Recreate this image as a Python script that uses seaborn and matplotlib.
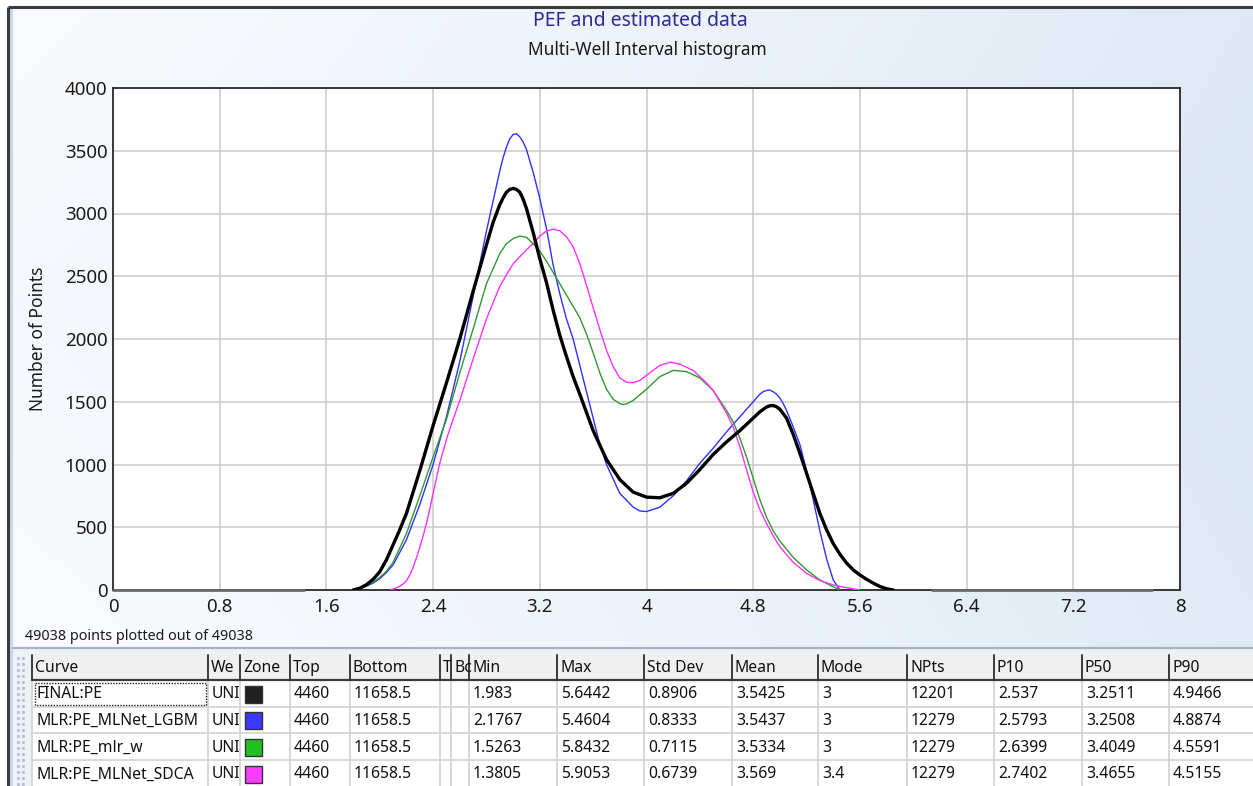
import numpy as np
import pandas as pd
import matplotlib
matplotlib.use("Agg")
import matplotlib.pyplot as plt
from matplotlib.patches import Rectangle
import seaborn as sns

# ---------------------------------------------------------------- data
curve_names = ["FINAL:PE", "MLR:PE_MLNet_LGBM", "MLR:PE_mlr_w", "MLR:PE_MLNet_SDCA"]

final_pe_x = [1.80, 1.85, 1.90, 1.95, 2.00, 2.05, 2.10, 2.15, 2.20, 2.30, 2.40, 2.50,
              2.60, 2.70, 2.80, 2.85, 2.90, 2.925, 2.95, 2.975, 3.00, 3.025, 3.05,
              3.075, 3.10, 3.15, 3.20, 3.25, 3.30, 3.35, 3.40, 3.45, 3.50, 3.60,
              3.70, 3.80, 3.90, 4.00, 4.10, 4.20, 4.30, 4.40, 4.50, 4.60, 4.70,
              4.80, 4.85, 4.90, 4.925, 4.95, 4.975, 5.00, 5.05, 5.10, 5.15, 5.20,
              5.25, 5.30, 5.35, 5.40, 5.45, 5.50, 5.55, 5.60, 5.65, 5.70, 5.75,
              5.80, 5.85]
final_pe_y = [0, 14, 42, 85, 145, 240, 360, 480, 610, 950, 1310, 1650,
              2000, 2380, 2750, 2930, 3070, 3125, 3170, 3192, 3200, 3192, 3170,
              3115, 3040, 2850, 2640, 2450, 2230, 2030, 1860, 1700, 1560, 1270,
              1040, 880, 780, 740, 735, 770, 850, 960, 1080, 1180, 1270,
              1370, 1420, 1458, 1468, 1470, 1460, 1440, 1370, 1240, 1090, 930,
              770, 610, 480, 370, 285, 215, 160, 120, 85, 55, 28,
              10, 0]

lgbm_x = [1.78, 1.85, 1.90, 1.95, 2.00, 2.05, 2.10, 2.20, 2.30, 2.40, 2.50, 2.60,
          2.70, 2.80, 2.90, 2.925, 2.95, 2.975, 3.00, 3.025, 3.05, 3.075, 3.10,
          3.15, 3.20, 3.25, 3.30, 3.35, 3.40, 3.45, 3.50, 3.55, 3.60, 3.65, 3.70,
          3.80, 3.90, 3.95, 4.00, 4.10, 4.20, 4.30, 4.40, 4.50, 4.60, 4.70, 4.80,
          4.85, 4.875, 4.90, 4.925, 4.95, 4.975, 5.00, 5.025, 5.05, 5.10, 5.15,
          5.20, 5.25, 5.30, 5.35, 5.40, 5.45]
lgbm_y = [0, 12, 30, 55, 90, 140, 200, 400, 680, 1000, 1380, 1820,
          2340, 2860, 3340, 3445, 3530, 3595, 3630, 3635, 3610, 3570, 3510,
          3330, 3120, 2880, 2590, 2360, 2160, 2000, 1790, 1580, 1370, 1160, 1000,
          770, 660, 630, 625, 660, 750, 870, 1010, 1130, 1260, 1380, 1500,
          1560, 1580, 1590, 1593, 1580, 1560, 1530, 1485, 1430, 1300, 1160,
          950, 720, 470, 250, 80, 0]

mlr_w_x = [1.80, 1.85, 1.90, 1.95, 2.00, 2.05, 2.10, 2.20, 2.30, 2.40, 2.50, 2.60,
           2.70, 2.80, 2.90, 2.95, 3.00, 3.05, 3.10, 3.15, 3.20, 3.25, 3.30, 3.35,
           3.40, 3.45, 3.50, 3.55, 3.60, 3.65, 3.70, 3.75, 3.80, 3.825, 3.85, 3.90,
           4.00, 4.10, 4.20, 4.30, 4.40, 4.50, 4.60, 4.65, 4.70, 4.75, 4.80, 4.85,
           4.90, 4.95, 5.00, 5.10, 5.20, 5.30, 5.40, 5.45]
mlr_w_y = [0, 15, 35, 62, 100, 150, 220, 450, 750, 1060, 1360, 1730,
           2080, 2440, 2680, 2760, 2800, 2820, 2810, 2760, 2700, 2620, 2530, 2440,
           2350, 2260, 2170, 2040, 1890, 1730, 1600, 1520, 1485, 1478, 1482, 1510,
           1600, 1700, 1750, 1740, 1690, 1590, 1430, 1340, 1210, 1060, 890, 720,
           580, 470, 390, 260, 160, 80, 25, 0]

sdca_x = [2.08, 2.12, 2.15, 2.175, 2.20, 2.225, 2.25, 2.275, 2.30, 2.325, 2.35,
          2.375, 2.40, 2.45, 2.50, 2.55, 2.60, 2.70, 2.80, 2.90, 3.00, 3.10,
          3.15, 3.20, 3.25, 3.30, 3.35, 3.40, 3.45, 3.50, 3.55, 3.60, 3.65, 3.70,
          3.75, 3.80, 3.85, 3.90, 3.95, 4.00, 4.10, 4.18, 4.25, 4.35, 4.45, 4.50,
          4.60, 4.65, 4.70, 4.75, 4.80, 4.85, 4.90, 4.95, 5.00, 5.10, 5.20, 5.30,
          5.40, 5.50, 5.60]
sdca_y = [0, 15, 30, 48, 72, 118, 180, 255, 340, 430, 530,
          645, 770, 1010, 1200, 1360, 1510, 1840, 2160, 2420, 2600, 2710,
          2760, 2820, 2860, 2875, 2862, 2815, 2735, 2600, 2430, 2250, 2075, 1910,
          1780, 1690, 1655, 1652, 1670, 1710, 1790, 1815, 1800, 1750, 1650, 1590,
          1410, 1300, 1140, 960, 780, 640, 530, 430, 345, 220, 133, 75,
          40, 18, 0]

# zero-count stretches of the interval outside the data range
zero_ranges = [(0.0, 1.43), (6.14, 7.79)]

x_ticks = [0, 0.8, 1.6, 2.4, 3.2, 4, 4.8, 5.6, 6.4, 7.2, 8]
x_tick_labels = ["0", "0.8", "1.6", "2.4", "3.2", "4", "4.8", "5.6", "6.4", "7.2", "8"]
y_ticks = [0, 500, 1000, 1500, 2000, 2500, 3000, 3500, 4000]

# statistics grid below the plot
table_columns = ["Curve", "We", "Zone", "Top", "Bottom", "T", "Bc", "Min", "Max",
                 "Std Dev", "Mean", "Mode", "NPts", "P10", "P50", "P90"]
well_names = ["UNI", "UNI", "UNI", "UNI"]
zone_colors = ["#202020", "#3a3aff", "#22c022", "#ff3cff"]
top_depths = ["4460", "4460", "4460", "4460"]
bottom_depths = ["11658.5", "11658.5", "11658.5", "11658.5"]
stat_min = ["1.983", "2.1767", "1.5263", "1.3805"]
stat_max = ["5.6442", "5.4604", "5.8432", "5.9053"]
stat_std = ["0.8906", "0.8333", "0.7115", "0.6739"]
stat_mean = ["3.5425", "3.5437", "3.5334", "3.569"]
stat_mode = ["3", "3", "3", "3.4"]
stat_npts = ["12201", "12279", "12279", "12279"]
stat_p10 = ["2.537", "2.5793", "2.6399", "2.7402"]
stat_p50 = ["3.2511", "3.2508", "3.4049", "3.4655"]
stat_p90 = ["4.9466", "4.8874", "4.5591", "4.5155"]
points_plotted = 49038
points_total = 49038

# ---------------------------------------------------------------- styling
sns.set_style("white")
plt.rcParams["font.family"] = ["Noto Sans", "DejaVu Sans"]

W, H = 1253, 786
fig = plt.figure(figsize=(W / 100, H / 100), dpi=100)

# full-figure canvas in pixel coordinates (background, frame, grid table)
bg = fig.add_axes([0, 0, 1, 1], zorder=0)
bg.set_xlim(0, W)
bg.set_ylim(H, 0)
bg.axis("off")

gx, gy = np.meshgrid(np.linspace(0, 1, 300), np.linspace(0, 1, 200))
t = np.clip(0.12 + 0.85 * gx ** 1.2 - 0.35 * np.abs(gy - 0.38), 0, 1)
c0 = np.array([0.975, 0.983, 0.993])
c1 = np.array([0.855, 0.905, 0.955])
grad = c0[None, None, :] * (1 - t[..., None]) + c1[None, None, :] * t[..., None]
bg.imshow(grad, extent=(8, W, H, 7), aspect="auto", interpolation="bilinear", zorder=0)
bg.add_patch(Rectangle((0, 0), W, 7, color="white", zorder=1))
bg.add_patch(Rectangle((0, 0), 8, H, color="white", zorder=1))
bg.add_patch(Rectangle((9, 8), 4, H, color="#c7d9ef", zorder=1, lw=0))
bg.plot([8, W], [7, 7], color="#3c3c3c", lw=2.2, zorder=2, solid_capstyle="butt")
bg.plot([8, 8], [7, H], color="#3c3c3c", lw=2.2, zorder=2, solid_capstyle="butt")

# titles and footnote
bg.text(640, 21, "PEF and estimated data", ha="center", va="center",
        fontsize=14, color="#2e2a96", zorder=3)
bg.text(647, 50, "Multi-Well Interval histogram", ha="center", va="center",
        fontsize=12.5, color="#1a1a1a", zorder=3)
bg.text(25, 636, f"{points_plotted} points plotted out of {points_total}",
        ha="left", va="center", fontsize=10.3, color="#1a1a1a", zorder=3)

# ---------------------------------------------------------------- grid table
bg.add_patch(Rectangle((13, 648), W - 13, H - 648, color="#edf2f8", zorder=2, lw=0))
bg.plot([13, W], [647.5, 647.5], color="#a8b2c0", lw=1.6, zorder=3)

col_edges = [32, 208, 240, 290, 350, 440, 451, 469, 557, 644, 732, 818, 907,
             994, 1082, 1169, 1260]
header_top, header_bot = 655, 680
row_edges = [680, 707, 733, 760, 787]

# row-selector gutter with grip dots
for r0 in range(658, H, 6):
    bg.plot([18, 23], [r0, r0], ls="none", marker="s", ms=1.1,
            color="#b9c3cf", zorder=4)

bg.add_patch(Rectangle((col_edges[0], header_top), W - col_edges[0],
                       header_bot - header_top, color="#f0f0f0", zorder=3, lw=0))
bg.add_patch(Rectangle((col_edges[0], header_bot), W - col_edges[0],
                       H - header_bot, color="white", zorder=3, lw=0))
for xe in col_edges[:-1]:
    bg.plot([xe, xe], [header_top, header_bot], color="#3a3a3a", lw=1.4, zorder=5)
    bg.plot([xe, xe], [header_bot, H], color="#d2d2d2", lw=1.2, zorder=4)
bg.plot([col_edges[0], W], [header_bot, header_bot], color="#3a3a3a", lw=1.6, zorder=5)
for ye in row_edges[1:-1]:
    bg.plot([col_edges[0], W], [ye, ye], color="#d2d2d2", lw=1.2, zorder=4)

for j, name in enumerate(table_columns):
    bg.text(col_edges[j] + 3, (header_top + header_bot) / 2 + 1, name,
            ha="left", va="center", fontsize=11.3, color="#111111", zorder=6)

table_rows = list(zip(curve_names, well_names, [""] * 4, top_depths, bottom_depths,
                      [""] * 4, [""] * 4, stat_min, stat_max, stat_std, stat_mean,
                      stat_mode, stat_npts, stat_p10, stat_p50, stat_p90))
for i, row in enumerate(table_rows):
    yc = (row_edges[i] + row_edges[i + 1]) / 2 + 1
    for j, val in enumerate(row):
        if val:
            bg.text(col_edges[j] + 4, yc, val, ha="left", va="center",
                    fontsize=11.3, color="#111111", zorder=6)
    bg.add_patch(Rectangle((245, yc - 9), 17, 17, facecolor=zone_colors[i],
                           edgecolor="#333333", lw=1, zorder=6))

# focus rectangle on the first cell
bg.add_patch(Rectangle((35, 683), 171, 22, fill=False, edgecolor="#222222",
                       lw=1, ls=(0, (1, 1)), zorder=6))

# ---------------------------------------------------------------- histogram
ax = fig.add_axes([113 / W, 1 - 590 / H, (1180 - 113) / W, (590 - 88) / H], zorder=5)
ax.set_facecolor("white")

frames = []
for name, xs, ys in [("MLR:PE_MLNet_LGBM", lgbm_x, lgbm_y),
                     ("MLR:PE_mlr_w", mlr_w_x, mlr_w_y),
                     ("MLR:PE_MLNet_SDCA", sdca_x, sdca_y),
                     ("FINAL:PE", final_pe_x, final_pe_y)]:
    frames.append(pd.DataFrame({"value": xs, "count": ys, "curve": name}))
df = pd.concat(frames, ignore_index=True)

palette = {"FINAL:PE": "#000000", "MLR:PE_MLNet_LGBM": "#3030ff",
           "MLR:PE_mlr_w": "#2f9a2f", "MLR:PE_MLNet_SDCA": "#ff30ff"}
widths = {"FINAL:PE": 2.4, "MLR:PE_MLNet_LGBM": 1.0,
          "MLR:PE_mlr_w": 1.0, "MLR:PE_MLNet_SDCA": 1.0}
hue_order = ["MLR:PE_MLNet_LGBM", "MLR:PE_mlr_w", "MLR:PE_MLNet_SDCA", "FINAL:PE"]

sns.lineplot(data=df, x="value", y="count", hue="curve", hue_order=hue_order,
             size="curve", sizes=widths, size_order=hue_order, palette=palette,
             estimator=None, errorbar=None, legend=False, ax=ax, zorder=4,
             solid_joinstyle="round", solid_capstyle="round")

for x0, x1 in zero_ranges:
    ax.plot([x0, x1], [0, 0], color="#6a6a6a", lw=2.0, zorder=3, clip_on=False)

ax.set_xlim(0, 8)
ax.set_ylim(0, 4000)
ax.set_xticks(x_ticks)
ax.set_xticklabels(x_tick_labels)
ax.set_yticks(y_ticks)
ax.grid(True, color="#c9c9c9", lw=1.1)
ax.set_axisbelow(True)
ax.tick_params(axis="x", length=3, width=1, pad=3, labelsize=13.5, colors="#1a1a1a")
ax.tick_params(axis="y", length=2, width=1, pad=2, labelsize=13.5, colors="#1a1a1a")
ax.set_xlabel("")
ax.set_ylabel("Number of Points", fontsize=12.5, color="#1a1a1a", labelpad=13)
for sp in ax.spines.values():
    sp.set_visible(True)
    sp.set_color("#2a2a2a")
    sp.set_linewidth(1.3)

fig.savefig("out.png", dpi=100)
